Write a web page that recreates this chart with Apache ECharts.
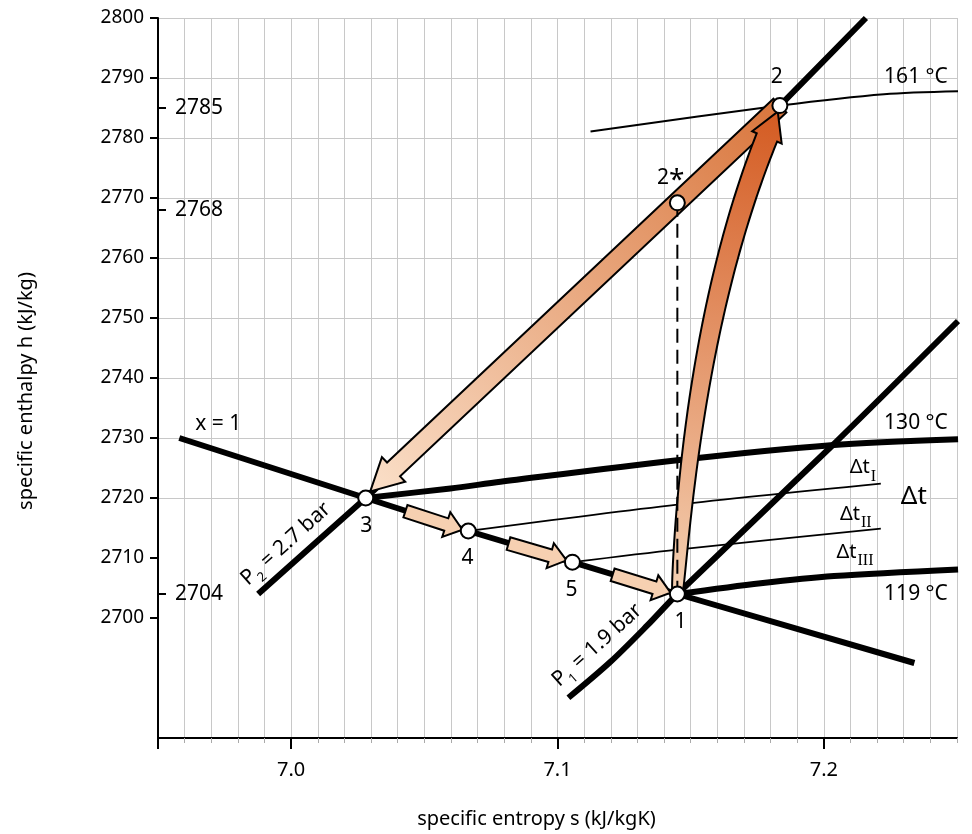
<!DOCTYPE html>
<html>
<head>
<meta charset="utf-8">
<title>h-s diagram</title>
<script src="https://cdn.jsdelivr.net/npm/echarts@6/dist/echarts.min.js"></script>
<style>
html, body { margin: 0; padding: 0; background: #fff; }
#hs { width: 972px; height: 834px; }
</style>
</head>
<body>
<div id="hs"></div>
<script>
// h-s diagram (enthalpy over entropy)
var hs = echarts.init(document.getElementById('hs'));

var sMin = 6.95, sMax = 7.25;
var hMin = 2680, hMax = 2800;
var sLabels = [7.0, 7.1, 7.2];
var sMajorTicks = [6.95, 7.0, 7.1, 7.2];
var hLabels = [2700, 2710, 2720, 2730, 2740, 2750, 2760, 2770, 2780, 2790, 2800];
var hMarks = [2704, 2768, 2785];

// curves, [s, h]
var satLine = [[6.958, 2730.0], [7.028, 2720.0], [7.0665, 2714.5], [7.1056, 2709.3], [7.145, 2704.0], [7.234, 2692.5]];
var isoP2 = [[6.9876, 2704.0], [7.028, 2720.0], [7.1835, 2785.4], [7.2158, 2800.0]];
var isoP1 = [[7.1041, 2686.7], [7.1199, 2692.7], [7.1338, 2698.8], [7.145, 2704.0], [7.2026, 2728.5], [7.2504, 2749.5]];
var iso130 = [[7.028, 2720.0], [7.0598, 2721.6], [7.0786, 2722.7], [7.145, 2726.3], [7.2026, 2728.8], [7.2504, 2729.8]];
var iso119 = [[7.145, 2704.0], [7.1763, 2705.8], [7.2038, 2707.0], [7.2504, 2708.1]];
var iso161 = [[7.1124, 2781.1], [7.1835, 2785.4], [7.2226, 2787.3], [7.2504, 2787.8]];
var dtLine1 = [[7.0665, 2714.5], [7.145, 2718.9], [7.2214, 2722.4]];
var dtLine2 = [[7.1056, 2709.3], [7.145, 2711.4], [7.2214, 2714.9]];
var dropLine = [[7.145, 2769.2], [7.145, 2704.0]];

// state points
var states = [[7.145, 2704.0], [7.1835, 2785.4], [7.145, 2769.2], [7.028, 2720.0], [7.0665, 2714.5], [7.1056, 2709.3]];

// arrows: [s0, h0, s1, h1] and curved [s0, h0, sCtrl, hCtrl, s1, h1]
var throttleArrow = [[7.1835, 2785.4, 7.0297, 2721.1]];
var stepArrows = [[7.0429, 2717.8, 7.0643, 2714.7], [7.0816, 2712.4, 7.1034, 2709.6], [7.1207, 2707.2, 7.1425, 2704.2]];
var compArrow = [[7.145, 2704.0, 7.1520, 2753.4, 7.1827, 2784.4]];

// text anchors [s, h, text]
var notes = [
    [7.1823, 2790.2, '2'],
    [7.1425, 2773.3, '{a|2}{s|*}'],
    [7.0282, 2715.4, '3'],
    [7.0662, 2710.0, '4'],
    [7.1053, 2704.6, '5'],
    [7.1462, 2699.3, '1'],
    [6.9726, 2732.3, 'x = 1'],
    [7.2346, 2790.2, '161 °C'],
    [7.2346, 2732.5, '130 °C'],
    [7.2346, 2704.0, '119 °C'],
    [7.2338, 2720.2, '{big|Δt}'],
    [7.2147, 2724.9, '{d|Δt}{r|I}'],
    [7.2120, 2717.2, '{d|Δt}{r|II}'],
    [7.2117, 2710.8, '{d|Δt}{r|III}']
];
var isobarNotes = [
    [6.9981, 2712.3, '{a|P}{b|2}{a| = 2.7 bar}'],
    [7.1150, 2695.4, '{a|P}{b|1}{a| = 1.9 bar}']
];

var font = 'Noto Sans';
var gridGray = '#c8c8c8';
var clear = 'rgba(0,0,0,0)';

var richStyles = {
    a: { fontSize: 21, fontFamily: font, lineHeight: 22, verticalAlign: 'top', color: '#000' },
    b: { fontSize: 13, fontFamily: font, lineHeight: 12, padding: [13, 1, 0, 0], verticalAlign: 'top', color: '#000' },
    s: { fontSize: 28, fontFamily: font, lineHeight: 22, verticalAlign: 'top', color: '#000' },
    big: { fontSize: 26, fontFamily: font, color: '#000' },
    d: { fontSize: 20, fontFamily: font, lineHeight: 22, verticalAlign: 'top', color: '#000' },
    r: { fontSize: 16, fontFamily: 'Liberation Serif', lineHeight: 14, padding: [11, 0, 0, 1], verticalAlign: 'top', color: '#000' }
};

function arrowPolygon(p0, p1, w, W, L) {
    var dx = p1[0] - p0[0], dy = p1[1] - p0[1];
    var len = Math.hypot(dx, dy);
    var ux = dx / len, uy = dy / len;
    var nx = -uy, ny = ux;
    var bx = p1[0] - ux * L, by = p1[1] - uy * L;
    return [
        [p0[0] + nx * w, p0[1] + ny * w],
        [bx + nx * w, by + ny * w],
        [bx + nx * W, by + ny * W],
        p1,
        [bx - nx * W, by - ny * W],
        [bx - nx * w, by - ny * w],
        [p0[0] - nx * w, p0[1] - ny * w]
    ];
}

function renderThrottle(params, api) {
    var p0 = api.coord([api.value(0), api.value(1)]);
    var p1 = api.coord([api.value(2), api.value(3)]);
    return {
        type: 'polygon',
        shape: { points: arrowPolygon(p0, p1, 9.5, 17, 32) },
        style: {
            fill: {
                type: 'linear', x: p0[0], y: p0[1], x2: p1[0], y2: p1[1], global: true,
                colorStops: [{ offset: 0, color: '#d9763d' }, { offset: 1, color: '#fadfc8' }]
            },
            stroke: '#000',
            lineWidth: 2,
            lineJoin: 'miter'
        }
    };
}

function renderStep(params, api) {
    var p0 = api.coord([api.value(0), api.value(1)]);
    var p1 = api.coord([api.value(2), api.value(3)]);
    return {
        type: 'polygon',
        shape: { points: arrowPolygon(p0, p1, 6.5, 13, 17) },
        style: { fill: '#f6d0b1', stroke: '#000', lineWidth: 2 }
    };
}

function renderCurved(params, api) {
    var a = api.coord([api.value(0), api.value(1)]);
    var c = api.coord([api.value(2), api.value(3)]);
    var b = api.coord([api.value(4), api.value(5)]);
    var n = 80, pts = [], cum = [0];
    for (var i = 0; i <= n; i++) {
        var t = i / n, u = 1 - t;
        pts.push([u * u * a[0] + 2 * t * u * c[0] + t * t * b[0], u * u * a[1] + 2 * t * u * c[1] + t * t * b[1]]);
        if (i > 0) cum.push(cum[i - 1] + Math.hypot(pts[i][0] - pts[i - 1][0], pts[i][1] - pts[i - 1][1]));
    }
    var headLen = 28, baseLen = cum[n] - headLen;
    var left = [], right = [], base = null;
    for (var j = 0; j <= n; j++) {
        var p = pts[j];
        if (cum[j] > baseLen) {
            var f = (baseLen - cum[j - 1]) / (cum[j] - cum[j - 1]);
            p = [pts[j - 1][0] + f * (pts[j][0] - pts[j - 1][0]), pts[j - 1][1] + f * (pts[j][1] - pts[j - 1][1])];
            base = p;
        }
        var q0 = pts[Math.max(j - 1, 0)], q1 = pts[Math.min(j + 1, n)];
        var dx = q1[0] - q0[0], dy = q1[1] - q0[1], d = Math.hypot(dx, dy);
        var nx = -dy / d, ny = dx / d;
        var w = 5 + 6 * Math.sqrt(Math.min(cum[j], baseLen) / baseLen);
        left.push([p[0] + nx * w, p[1] + ny * w]);
        right.push([p[0] - nx * w, p[1] - ny * w]);
        if (base) break;
    }
    var hx = b[0] - base[0], hy = b[1] - base[1], hd = Math.hypot(hx, hy);
    var mx = -hy / hd, my = hx / hd, W = 16;
    var poly = left.concat([[base[0] + mx * W, base[1] + my * W], b, [base[0] - mx * W, base[1] - my * W]], right.reverse());
    return {
        type: 'polygon',
        shape: { points: poly },
        style: {
            fill: {
                type: 'linear', x: a[0], y: a[1], x2: b[0], y2: b[1], global: true,
                colorStops: [{ offset: 0, color: '#f4d0b2' }, { offset: 1, color: '#d45b22' }]
            },
            stroke: '#000',
            lineWidth: 2
        }
    };
}

function curve(name, data, width, smooth, z) {
    return {
        name: name,
        type: 'line',
        data: data,
        showSymbol: false,
        smooth: smooth,
        lineStyle: { color: '#000', width: width, cap: 'butt', join: 'round' },
        z: z,
        silent: true
    };
}

function textLayer(list, extra) {
    var label = {
        show: true,
        position: [1, 1],
        align: 'center',
        verticalAlign: 'middle',
        formatter: function (p) { return p.name; },
        fontSize: 21,
        fontFamily: font,
        color: '#000',
        rich: richStyles
    };
    for (var k in extra) label[k] = extra[k];
    return {
        type: 'scatter',
        data: list.map(function (n) { return { value: [n[0], n[1]], name: n[2] }; }),
        symbol: 'circle',
        symbolSize: 2,
        itemStyle: { color: clear, opacity: 1 },
        label: label,
        z: 7,
        silent: true
    };
}

// y split lines: hide 2680 and 2690
var hSplitColors = [];
for (var v = hMin; v <= hMax; v += 10) {
    hSplitColors.push(v < 2700 ? clear : gridGray);
}

var option = {
    backgroundColor: '#fff',
    animation: false,
    textStyle: { fontFamily: font },
    grid: { left: 158, right: 15, top: 18, bottom: 94 },
    xAxis: [
        {
            type: 'value',
            position: 'bottom',
            min: sMin,
            max: sMax,
            interval: 0.01,
            axisLine: { lineStyle: { color: '#000', width: 2 } },
            axisTick: { length: 5, lineStyle: { color: '#aaa' } },
            axisLabel: { show: false },
            splitLine: { lineStyle: { color: gridGray, width: 1 } }
        },
        {
            type: 'value',
            position: 'bottom',
            min: sMin,
            max: sMax,
            axisLine: { show: false },
            axisTick: { customValues: sMajorTicks, length: 11, lineStyle: { color: '#000', width: 2 } },
            axisLabel: {
                customValues: sLabels,
                margin: 22,
                fontSize: 20,
                color: '#000',
                fontFamily: font,
                formatter: function (v) { return v.toFixed(1); }
            },
            splitLine: { show: false },
            name: 'specific entropy s (kJ/kgK)',
            nameLocation: 'middle',
            nameGap: 71,
            nameTextStyle: { fontSize: 20, color: '#000', fontFamily: font, padding: [0, 42, 0, 0] }
        }
    ],
    yAxis: [
        {
            type: 'value',
            position: 'left',
            min: hMin,
            max: hMax,
            interval: 10,
            axisLine: { lineStyle: { color: '#000', width: 2 } },
            axisTick: { customValues: hLabels, length: 8, lineStyle: { color: '#000', width: 2 } },
            axisLabel: {
                customValues: hLabels,
                margin: 14,
                fontSize: 19,
                color: '#000',
                fontFamily: font,
                formatter: function (v) { return String(v); }
            },
            splitLine: { lineStyle: { color: hSplitColors, width: 1 } },
            name: 'specific enthalpy h (kJ/kg)',
            nameLocation: 'middle',
            nameGap: 122,
            nameTextStyle: { fontSize: 20, color: '#000', fontFamily: font, padding: [0, 26, 0, 0] }
        },
        {
            type: 'value',
            position: 'left',
            min: hMin,
            max: hMax,
            axisLine: { show: false },
            axisTick: { customValues: hMarks, inside: true, length: 8, lineStyle: { color: '#000', width: 2 } },
            axisLabel: {
                customValues: hMarks,
                inside: true,
                margin: 17,
                fontSize: 21,
                color: '#000',
                fontFamily: font,
                formatter: function (v) { return String(v); }
            },
            splitLine: { show: false }
        }
    ],
    series: [
        curve('161 °C', iso161, 2, 0.3, 2),
        curve('Δt I', dtLine1, 1.8, 0.3, 2),
        curve('Δt II', dtLine2, 1.8, 0.3, 2),
        curve('x = 1', satLine, 6, false, 3),
        curve('P2 = 2.7 bar', isoP2, 6, false, 3),
        curve('P1 = 1.9 bar', isoP1, 6, 0.3, 3),
        curve('130 °C', iso130, 6, 0.3, 3),
        curve('119 °C', iso119, 6, 0.3, 3),
        {
            type: 'custom',
            renderItem: renderThrottle,
            data: throttleArrow,
            z: 4,
            silent: true
        },
        {
            type: 'custom',
            renderItem: renderStep,
            data: stepArrows,
            z: 4,
            silent: true
        },
        {
            type: 'custom',
            renderItem: renderCurved,
            data: compArrow,
            z: 4,
            silent: true
        },
        {
            type: 'line',
            data: dropLine,
            showSymbol: false,
            lineStyle: { color: '#000', width: 2, type: [14, 7] },
            z: 5,
            silent: true
        },
        {
            type: 'scatter',
            data: states,
            symbol: 'circle',
            symbolSize: 15,
            itemStyle: { color: '#fff', borderColor: '#000', borderWidth: 2, opacity: 1 },
            z: 6,
            silent: true
        },
        textLayer(notes, {}),
        textLayer(isobarNotes, { rotate: 42 })
    ]
};

hs.setOption(option);
window.addEventListener('resize', function () {
    hs.resize();
});
</script>
</body>
</html>
